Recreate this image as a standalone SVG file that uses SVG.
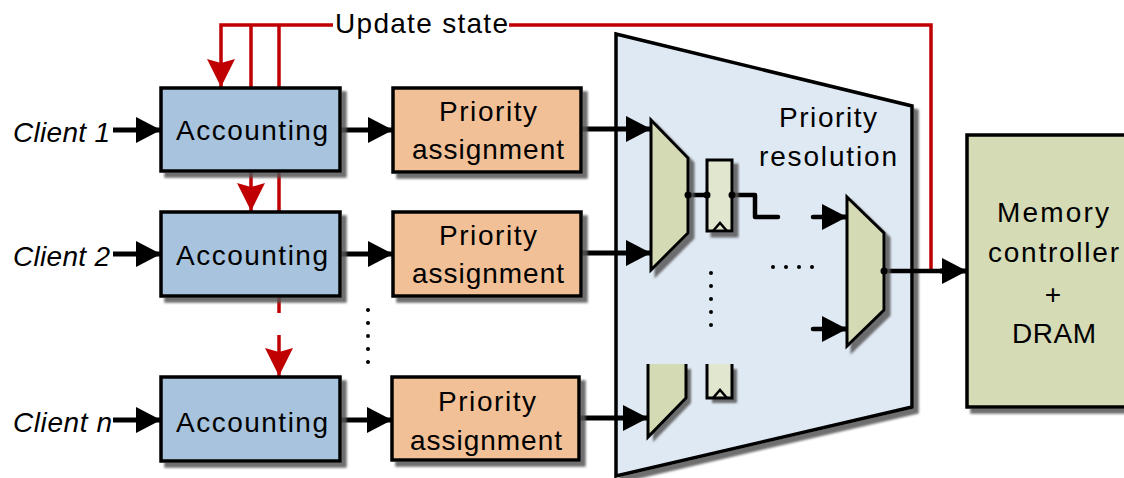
<svg xmlns="http://www.w3.org/2000/svg" width="1124" height="478" viewBox="0 0 1124 478">
<style>
text{font-family:"Liberation Sans",Arial,sans-serif;font-size:28px;fill:#000}
.it{font-style:italic}
.box{stroke:#000;stroke-width:3.5}
.acc{fill:#a7c3dd}
.pri{fill:#f1c097}
.mux{fill:#d3dab4;stroke:#000;stroke-width:3;stroke-linejoin:miter}
.ff{fill:#e1e6cf;stroke:#000;stroke-width:3}
.mem{fill:#d4dbb5}
.trap{fill:#dfe9f3;stroke:#000;stroke-width:3.5}
.blk{fill:none;stroke:#000;stroke-width:5}
.wire{fill:none;stroke:#000;stroke-width:4.5;stroke-linecap:round;stroke-linejoin:round}
.red{fill:none;stroke:#c00000;stroke-width:3.5}
.sh{filter:url(#shadow)}
</style>
<defs>
<filter id="shadow" x="-20%" y="-20%" width="150%" height="150%">
<feDropShadow dx="5" dy="5" stdDeviation="1.3" flood-color="#555" flood-opacity="0.85"/>
</filter>
<marker id="ab" markerUnits="userSpaceOnUse" markerWidth="26" markerHeight="28" refX="25" refY="13" orient="auto">
<path d="M0,0 L25,13 L0,26 Z" fill="#000"/>
</marker>
<marker id="ar" markerUnits="userSpaceOnUse" markerWidth="30" markerHeight="30" refX="28" refY="14" orient="auto">
<path d="M0,0 L28,14 L0,28 L4,14 Z" fill="#c00000"/>
</marker>
</defs>

<g id="priority-resolution">
<polygon class="trap sh" points="616,34 912,106 912,407 616,476"/>
<text x="779" y="127" textLength="98" lengthAdjust="spacing">Priority</text>
<text x="759" y="166" textLength="138" lengthAdjust="spacing">resolution</text>
</g>

<g id="connectors">
<path class="red" d="M333,25 H221 V87" marker-end="url(#ar)"/>
<path class="red" d="M251,25 V90"/>
<path class="red" d="M279,25 V212"/>
<path class="red" d="M251,170 V211" marker-end="url(#ar)"/>
<path class="red" d="M279,295 V313"/>
<path class="red" d="M279,335 V376" marker-end="url(#ar)"/>
<path class="red" d="M509,25 H931 V269"/>

<path class="blk" d="M113,130 H161" marker-end="url(#ab)"/>
<path class="blk" d="M113,254 H161" marker-end="url(#ab)"/>
<path class="blk" d="M113,420 H161" marker-end="url(#ab)"/>
<path class="blk" d="M340,130 H393" marker-end="url(#ab)"/>
<path class="blk" d="M340,254 H393" marker-end="url(#ab)"/>
<path class="blk" d="M340,420 H392" marker-end="url(#ab)"/>
<path class="blk" d="M581,129 H651" marker-end="url(#ab)"/>
<path class="blk" d="M581,253 H651" marker-end="url(#ab)"/>
<path class="blk" d="M579,418 H648" marker-end="url(#ab)"/>

<path class="wire" d="M688,195 H707"/>
<path class="wire" d="M732,195 H755 V217 H778"/>
<path class="wire" d="M813,217 H830"/>
<path class="blk" d="M828,217 H847" marker-end="url(#ab)"/>
<path class="wire" d="M813,329 H830"/>
<path class="blk" d="M828,329 H847" marker-end="url(#ab)"/>
<path class="wire" d="M884,271 H945"/>
<path class="blk" d="M940,271 H967" marker-end="url(#ab)"/>

<g fill="#000">
<circle cx="368" cy="310" r="2"/><circle cx="368" cy="323" r="2"/><circle cx="368" cy="336" r="2"/><circle cx="368" cy="349" r="2"/><circle cx="368" cy="362" r="2"/>
<circle cx="711" cy="273" r="2"/><circle cx="711" cy="286" r="2"/><circle cx="711" cy="299" r="2"/><circle cx="711" cy="312" r="2"/><circle cx="711" cy="325" r="2"/>
<circle cx="773" cy="267" r="2"/><circle cx="786" cy="267" r="2"/><circle cx="799" cy="267" r="2"/><circle cx="812" cy="267" r="2"/>
</g>
</g>

<g id="update-state-label">
<text x="335" y="33" textLength="173" lengthAdjust="spacing">Update state</text>
</g>

<g id="client-1"><text class="it" x="13" y="142" textLength="97" lengthAdjust="spacing">Client 1</text></g>
<g id="client-2"><text class="it" x="13" y="266" textLength="97" lengthAdjust="spacing">Client 2</text></g>
<g id="client-n"><text class="it" x="13" y="432" textLength="99" lengthAdjust="spacing">Client n</text></g>

<g id="accounting-1">
<rect class="box acc sh" x="161" y="88" width="179" height="83"/>
<text x="176" y="140" textLength="152" lengthAdjust="spacing">Accounting</text>
</g>
<g id="accounting-2">
<rect class="box acc sh" x="161" y="212" width="179" height="84"/>
<text x="176" y="265" textLength="152" lengthAdjust="spacing">Accounting</text>
</g>
<g id="accounting-n">
<rect class="box acc sh" x="161" y="377" width="179" height="84"/>
<text x="176" y="432" textLength="152" lengthAdjust="spacing">Accounting</text>
</g>

<g id="priority-assignment-1">
<rect class="box pri sh" x="393" y="88" width="188" height="84"/>
<text x="439" y="121" textLength="98" lengthAdjust="spacing">Priority</text>
<text x="412" y="159" textLength="152" lengthAdjust="spacing">assignment</text>
</g>
<g id="priority-assignment-2">
<rect class="box pri sh" x="393" y="212" width="188" height="84"/>
<text x="439" y="245" textLength="98" lengthAdjust="spacing">Priority</text>
<text x="412" y="283" textLength="152" lengthAdjust="spacing">assignment</text>
</g>
<g id="priority-assignment-n">
<rect class="box pri sh" x="392" y="377" width="187" height="83"/>
<text x="438" y="411" textLength="98" lengthAdjust="spacing">Priority</text>
<text x="410" y="450" textLength="152" lengthAdjust="spacing">assignment</text>
</g>

<g id="mux-1">
<polygon class="mux sh" points="651,120 688,158 688,233 651,270"/>
</g>
<g id="ff-1">
<rect class="ff sh" x="707" y="160" width="25" height="71"/>
<path d="M713,231 L720,223 L727,231" fill="none" stroke="#000" stroke-width="2.5"/>
<circle cx="688" cy="195" r="3.5"/><circle cx="707" cy="195" r="3.5"/><circle cx="732" cy="195" r="3.5"/>
</g>
<g id="mux-n">
<polygon points="648,364 686,364 686,398 648,437" fill="#d3dab4" class="sh"/>
<path d="M648,364 V437 L686,398 V364" fill="none" stroke="#000" stroke-width="3"/>
</g>
<g id="ff-n">
<path d="M707,364 V398 H732 V364 Z" fill="#e1e6cf" class="sh"/>
<path d="M707,364 V398 H732 V364" fill="none" stroke="#000" stroke-width="3"/>
<path d="M713,398 L720,390 L727,398" fill="none" stroke="#000" stroke-width="2.5"/>
</g>
<g id="mux-2">
<polygon class="mux sh" points="847,197 884,233 884,310 847,346"/>
<circle cx="884" cy="271" r="3.5"/>
</g>

<g id="memory-controller">
<rect class="box mem sh" x="967" y="135" width="170" height="272"/>
<text x="997" y="222" textLength="112" lengthAdjust="spacing">Memory</text>
<text x="988" y="262" textLength="131" lengthAdjust="spacing">controller</text>
<text x="1053" y="304" text-anchor="middle">+</text>
<text x="1012" y="343" textLength="84" lengthAdjust="spacing">DRAM</text>
</g>
</svg>
